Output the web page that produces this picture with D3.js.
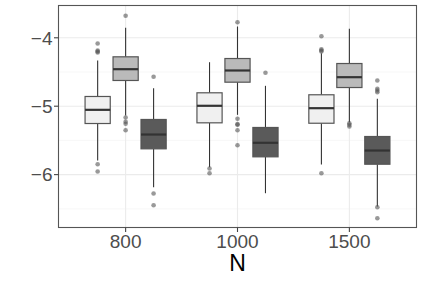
<!DOCTYPE html>
<html><head><meta charset="utf-8">
<script src="https://cdn.jsdelivr.net/npm/d3@7"></script>
<style>body{margin:0;background:#fff}svg{display:block}</style>
</head><body>
<svg id="c" width="422" height="282"></svg>
<script>
const categories = ["800", "1000", "1500"];
const seriesNames = ["s1", "s2", "s3"];
const yTicks = [-4, -5, -6];
const yMinor = [-4.5, -5.5, -6.5];
// [category][series]
const q1 = [[-5.253, -4.624, -5.623], [-5.243, -4.649, -5.740], [-5.249, -4.727, -5.848]];
const median = [[-5.053, -4.459, -5.414], [-4.994, -4.478, -5.535], [-5.029, -4.576, -5.648]];
const q3 = [[-4.858, -4.278, -5.194], [-4.804, -4.303, -5.311], [-4.833, -4.376, -5.443]];
const whiskerLow = [[-5.794, -5.136, -6.184], [-5.892, -5.126, -6.272], [-5.852, -5.234, -6.466]];
const whiskerHigh = [[-4.332, -3.854, -4.737], [-4.357, -3.835, -4.702], [-4.225, -3.868, -4.892]];
const outliers = [
  [[-5.848, -5.955, -4.083, -4.186, -4.200, -4.215], [-3.678, -5.165, -5.228, -5.257, -5.351], [-4.570, -6.276, -6.447]],
  [[-5.911, -5.980], [-3.772, -5.184, -5.262, -5.272, -5.351, -5.570], [-4.512]],
  [[-3.977, -4.167, -4.186, -4.200, -5.980], [-5.249, -5.272, -5.297], [-4.624, -4.746, -4.770, -4.795, -6.477, -6.637]]
];

const fills = ["#f0f0f0", "#bababa", "#5a5a5a"];
const pL = 58.5, pR = 416.5, pT = 5.5, pB = 227.5;
const svg = d3.select("#c");

// ggplot discrete expansion: 0.6 units each side of first/last category -> 3.2 units total
const x = d3.scalePoint().domain(categories).range([pL + (pR - pL) * 0.6 / 3.2, pR - (pR - pL) * 0.6 / 3.2]);
const unit = x.step();
const dodge = d3.scaleBand().domain(seriesNames).range([-0.375 * unit, 0.375 * unit]);
const boxW = 0.225 * unit;
const y = d3.scaleLinear().domain([-6.773, -3.528]).range([pB, pT]);

// grid
const g = svg.append("g");
g.selectAll(".mn").data(yMinor).enter().append("line")
  .attr("x1", pL).attr("x2", pR).attr("y1", d => y(d)).attr("y2", d => y(d))
  .attr("stroke", "#f2f2f2").attr("stroke-width", 0.6);
g.selectAll(".mj").data(yTicks).enter().append("line")
  .attr("x1", pL).attr("x2", pR).attr("y1", d => y(d)).attr("y2", d => y(d))
  .attr("stroke", "#ebebeb").attr("stroke-width", 1.1);
g.selectAll(".mx").data(categories).enter().append("line")
  .attr("y1", pT).attr("y2", pB).attr("x1", d => x(d)).attr("x2", d => x(d))
  .attr("stroke", "#ebebeb").attr("stroke-width", 1.1);

// boxes
const boxes = [];
categories.forEach((c, i) => seriesNames.forEach((s, j) => boxes.push({c, s, i, j})));
const bg = svg.append("g").selectAll("g").data(boxes).enter().append("g")
  .attr("transform", d => `translate(${x(d.c) + dodge(d.s) + dodge.bandwidth() / 2},0)`);
bg.append("line").attr("x1", 0).attr("x2", 0)
  .attr("y1", d => y(whiskerHigh[d.i][d.j])).attr("y2", d => y(q3[d.i][d.j]))
  .attr("stroke", "#333").attr("stroke-width", 1.1);
bg.append("line").attr("x1", 0).attr("x2", 0)
  .attr("y1", d => y(q1[d.i][d.j])).attr("y2", d => y(whiskerLow[d.i][d.j]))
  .attr("stroke", "#333").attr("stroke-width", 1.1);
bg.append("rect").attr("x", -boxW / 2).attr("width", boxW)
  .attr("y", d => y(q3[d.i][d.j])).attr("height", d => y(q1[d.i][d.j]) - y(q3[d.i][d.j]))
  .attr("fill", d => fills[d.j]).attr("stroke", "#555").attr("stroke-width", 1.2);
bg.append("line").attr("x1", -boxW / 2).attr("x2", boxW / 2)
  .attr("y1", d => y(median[d.i][d.j])).attr("y2", d => y(median[d.i][d.j]))
  .attr("stroke", "#333").attr("stroke-width", 2.2);
bg.selectAll("circle").data(d => outliers[d.i][d.j]).enter().append("circle")
  .attr("cx", 0).attr("cy", v => y(v)).attr("r", 2.3)
  .attr("fill", "#555").attr("fill-opacity", 0.6);

// panel border
svg.append("rect").attr("x", pL).attr("y", pT).attr("width", pR - pL).attr("height", pB - pT)
  .attr("fill", "none").attr("stroke", "#555").attr("stroke-width", 1.1);

// y axis
const ya = svg.append("g");
ya.selectAll("line").data(yTicks).enter().append("line")
  .attr("x1", pL - 4.5).attr("x2", pL).attr("y1", d => y(d)).attr("y2", d => y(d))
  .attr("stroke", "#444").attr("stroke-width", 1.1);
ya.selectAll("text").data(yTicks).enter().append("text")
  .attr("x", pL - 6).attr("y", d => y(d)).attr("dy", "0.36em")
  .attr("text-anchor", "end").attr("font-family", "Liberation Sans, Arial, sans-serif")
  .attr("font-size", 19).attr("fill", "#4d4d4d")
  .text(d => d3.format("")(d).replace("-", "\u2212"));

// x axis
const xa = svg.append("g");
xa.selectAll("line").data(categories).enter().append("line")
  .attr("x1", d => x(d)).attr("x2", d => x(d)).attr("y1", pB).attr("y2", pB + 4.5)
  .attr("stroke", "#444").attr("stroke-width", 1.1);
xa.selectAll("text").data(categories).enter().append("text")
  .attr("x", d => x(d)).attr("y", 247.5)
  .attr("text-anchor", "middle").attr("font-family", "Liberation Sans, Arial, sans-serif")
  .attr("font-size", 19).attr("fill", "#4d4d4d").text(d => d);
svg.append("text").attr("x", (pL + pR) / 2).attr("y", 270.5)
  .attr("text-anchor", "middle").attr("font-family", "Liberation Sans, Arial, sans-serif")
  .attr("font-size", 23).attr("fill", "#000").text("N");
</script>
</body></html>
